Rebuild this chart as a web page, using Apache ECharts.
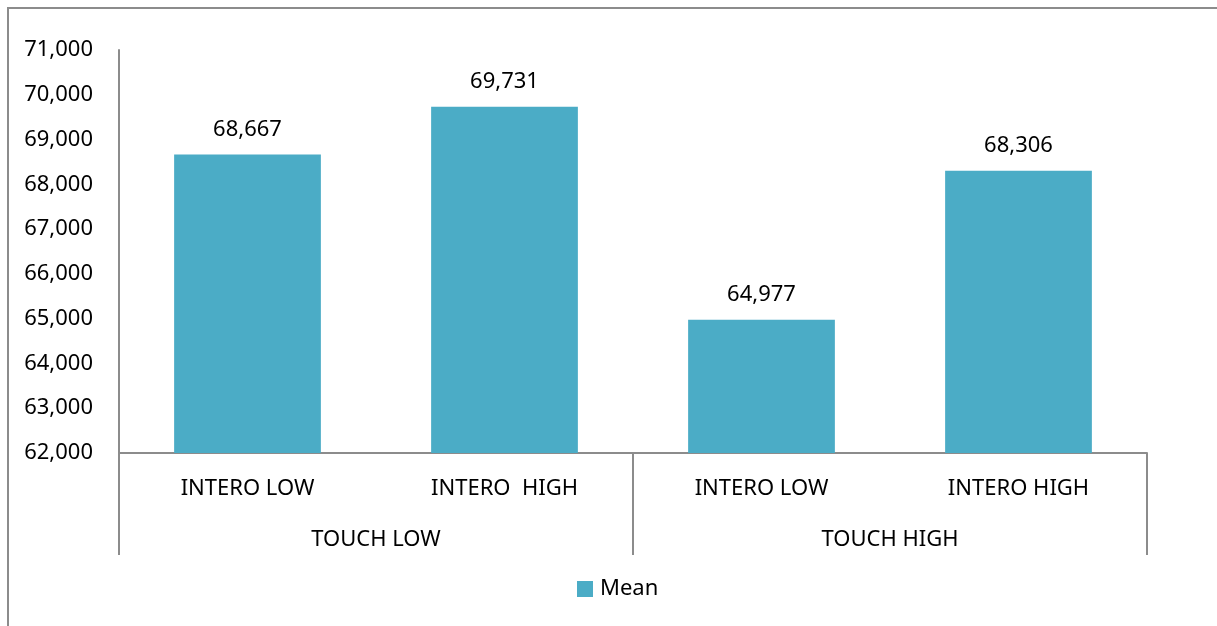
<!DOCTYPE html>
<html>
<head>
<meta charset="utf-8">
<script src="https://cdn.jsdelivr.net/npm/echarts@6/dist/echarts.min.js"></script>
<style>
  html, body { margin: 0; padding: 0; background: #fff; }
  #chart { width: 1217px; height: 626px; }
</style>
</head>
<body>
<div id="chart"></div>
<script>
// Sub-categories (inner axis level) and their groups (outer axis level)
const categories = ['INTERO LOW', 'INTERO  HIGH', 'INTERO LOW', 'INTERO HIGH'];
const groups = ['TOUCH LOW', 'TOUCH HIGH'];
const meanValues = [68667, 69731, 64977, 68306];
const seriesName = 'Mean';

const FONT = '"Noto Sans", "Open Sans", sans-serif';
const FONT_SIZE = 22;
const AXIS_GRAY = '#8c8c8c';
const BAR_COLOR = '#4bacc6';

const fmt = v => Number(v).toLocaleString('en-US');

const chart = echarts.init(document.getElementById('chart'), null, { renderer: 'canvas' });

chart.setOption({
  animation: false,
  backgroundColor: '#fff',
  textStyle: { fontFamily: FONT },
  graphic: [{
    type: 'rect',
    shape: { x: 8, y: 8, width: 1400, height: 800 },
    style: { fill: 'none', stroke: AXIS_GRAY, lineWidth: 2 },
    silent: true
  }],
  grid: { left: 119, right: 70, top: 50, bottom: 173, containLabel: false },
  legend: {
    data: [seriesName],
    left: 577, top: 578,
    padding: 0,
    icon: 'rect',
    itemWidth: 16, itemHeight: 16, itemGap: 7,
    textStyle: { fontFamily: FONT, fontSize: FONT_SIZE, color: '#000', padding: [0, 0, 0, 2] }
  },
  xAxis: [
    {
      type: 'category',
      data: categories,
      position: 'bottom',
      axisLine: { show: true, lineStyle: { color: AXIS_GRAY, width: 2 } },
      axisTick: { show: false },
      axisLabel: { color: '#000', fontFamily: FONT, fontSize: FONT_SIZE, margin: 25, interval: 0 }
    },
    {
      type: 'category',
      data: groups,
      position: 'bottom',
      boundaryGap: true,
      axisLine: { show: false },
      axisTick: { show: true, length: 102, lineStyle: { color: AXIS_GRAY, width: 2 } },
      axisLabel: { color: '#000', fontFamily: FONT, fontSize: FONT_SIZE, margin: 76, interval: 0 }
    }
  ],
  yAxis: {
    type: 'value',
    min: 62000, max: 71000, interval: 1000,
    axisLine: { show: true, lineStyle: { color: AXIS_GRAY, width: 2 } },
    axisTick: { show: false },
    splitLine: { show: false },
    axisLabel: { color: '#000', fontFamily: FONT, fontSize: FONT_SIZE, margin: 26, formatter: fmt }
  },
  series: [{
    name: seriesName,
    type: 'bar',
    xAxisIndex: 0,
    data: meanValues,
    barCategoryGap: '42.9%',
    itemStyle: { color: BAR_COLOR },
    label: {
      show: true, position: 'top', distance: 14,
      color: '#000', fontFamily: FONT, fontSize: FONT_SIZE,
      formatter: p => fmt(p.value)
    }
  }]
});
</script>
</body>
</html>
